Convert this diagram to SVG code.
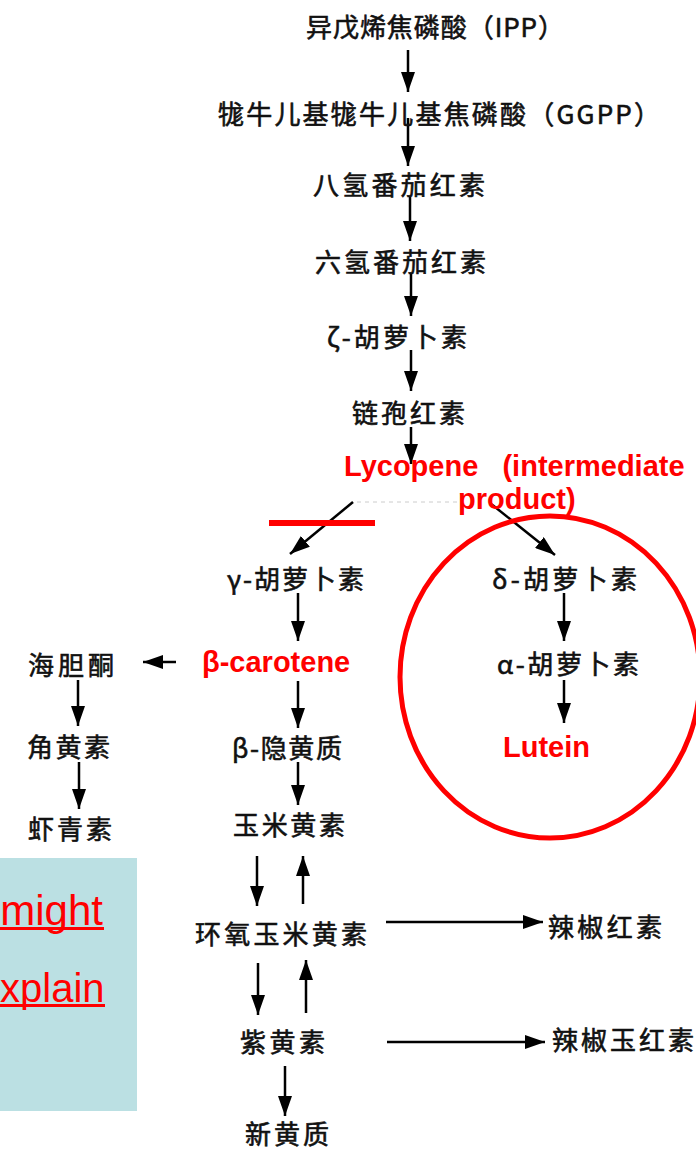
<svg xmlns="http://www.w3.org/2000/svg" width="696" height="1174" viewBox="0 0 696 1174">
<style>
.cn{font-family:"Noto Sans CJK SC","Noto Sans CJK TC",sans-serif;font-size:26px;fill:#111;stroke:#111;stroke-width:0.6;}
.red{font-family:"Liberation Sans",Arial,sans-serif;font-size:29px;font-weight:bold;fill:#ff0000;}
.note{font-family:"Liberation Sans",Arial,sans-serif;font-size:42px;fill:#ff0000;}
.ar{stroke:#000;stroke-width:2.5;fill:none;marker-end:url(#ah);}
</style>
<defs>
<marker id="ah" markerUnits="userSpaceOnUse" viewBox="0 0 20 14" refX="20" refY="7" markerWidth="20" markerHeight="14" orient="auto">
<path d="M0,0 L20,7 L0,14 z" fill="#000"/>
</marker>
</defs>
<rect width="696" height="1174" fill="#fff"/>

<g id="note-box">
<rect x="0" y="858" width="137" height="253" fill="#bbe0e3"/>
<text class="note" x="103" y="925" text-anchor="end">might</text>
<rect x="0" y="927" width="104" height="3" fill="#ff0000"/>
<text class="note" x="0" y="1002" style="font-size:40px">xplain</text>
<rect x="0" y="1004" width="105" height="3" fill="#ff0000"/>
</g>

<g id="connectors">
<line class="ar" x1="408" y1="50" x2="408" y2="92"/>
<line class="ar" x1="408" y1="118" x2="408" y2="166"/>
<line class="ar" x1="410" y1="197" x2="410" y2="241"/>
<line class="ar" x1="411" y1="273" x2="411" y2="316"/>
<line class="ar" x1="411" y1="350" x2="411" y2="391"/>
<line class="ar" x1="411" y1="427" x2="411" y2="464"/>
<line x1="357" y1="502" x2="457" y2="502" stroke="#cccccc" stroke-width="1" stroke-dasharray="4,4"/>
<line class="ar" x1="353" y1="502" x2="290" y2="554"/>
<line class="ar" x1="490" y1="503" x2="555" y2="555"/>
<line class="ar" x1="298" y1="593" x2="298" y2="641"/>
<line class="ar" x1="176" y1="662" x2="143" y2="662"/>
<line class="ar" x1="78" y1="680" x2="78" y2="726"/>
<line class="ar" x1="79" y1="762" x2="79" y2="809"/>
<line class="ar" x1="298" y1="681" x2="298" y2="728"/>
<line class="ar" x1="298" y1="762" x2="298" y2="805"/>
<line class="ar" x1="257" y1="856" x2="257" y2="906"/>
<line class="ar" x1="303" y1="904" x2="303" y2="856"/>
<line class="ar" x1="258" y1="963" x2="258" y2="1015"/>
<line class="ar" x1="306" y1="1013" x2="306" y2="960"/>
<line class="ar" x1="386" y1="922" x2="543" y2="922"/>
<line class="ar" x1="387" y1="1042" x2="545" y2="1042"/>
<line class="ar" x1="285" y1="1066" x2="285" y2="1116"/>
<line class="ar" x1="564" y1="593" x2="564" y2="641"/>
<line class="ar" x1="564" y1="680" x2="564" y2="723"/>
</g>

<g id="ipp"><text class="cn" x="306" y="37" textLength="258" lengthAdjust="spacing">异戊烯焦磷酸（IPP）</text></g>
<g id="ggpp"><text class="cn" x="218" y="124" textLength="442" lengthAdjust="spacing">牻牛儿基牻牛儿基焦磷酸（GGPP）</text></g>
<g id="phytoene"><text class="cn" x="313" y="195" textLength="172" lengthAdjust="spacing">八氢番茄红素</text></g>
<g id="phytofluene"><text class="cn" x="315" y="272" textLength="171" lengthAdjust="spacing">六氢番茄红素</text></g>
<g id="zeta-carotene"><text class="cn" x="327" y="347" textLength="140" lengthAdjust="spacing">ζ-胡萝卜素</text></g>
<g id="neurosporene"><text class="cn" x="352" y="423" textLength="113" lengthAdjust="spacing">链孢红素</text></g>
<g id="lycopene">
<text class="red" x="344" y="476" xml:space="preserve">Lycopene   (intermediate</text>
<text class="red" x="458" y="509">product)</text>
</g>
<rect x="269" y="520" width="106" height="6" fill="#ff0000"/>
<g id="gamma-carotene"><text class="cn" x="227" y="589" textLength="137" lengthAdjust="spacing">γ-胡萝卜素</text></g>
<g id="beta-carotene"><text class="red" x="202" y="672">β-carotene</text></g>
<g id="echinenone"><text class="cn" x="28" y="675" textLength="86" lengthAdjust="spacing">海胆酮</text></g>
<g id="canthaxanthin"><text class="cn" x="27" y="757" textLength="83" lengthAdjust="spacing">角黄素</text></g>
<g id="astaxanthin"><text class="cn" x="28" y="839" textLength="84" lengthAdjust="spacing">虾青素</text></g>
<g id="beta-cryptoxanthin"><text class="cn" x="232" y="758" textLength="110" lengthAdjust="spacing">β-隐黄质</text></g>
<g id="zeaxanthin"><text class="cn" x="233" y="835" textLength="112" lengthAdjust="spacing">玉米黄素</text></g>
<g id="antheraxanthin"><text class="cn" x="195" y="944" textLength="172" lengthAdjust="spacing">环氧玉米黄素</text></g>
<g id="capsanthin"><text class="cn" x="548" y="937" textLength="114" lengthAdjust="spacing">辣椒红素</text></g>
<g id="violaxanthin"><text class="cn" x="240" y="1052" textLength="85" lengthAdjust="spacing">紫黄素</text></g>
<g id="capsorubin"><text class="cn" x="552" y="1050" textLength="142" lengthAdjust="spacing">辣椒玉红素</text></g>
<g id="neoxanthin"><text class="cn" x="245" y="1144" textLength="84" lengthAdjust="spacing">新黄质</text></g>
<g id="delta-carotene"><text class="cn" x="492" y="589" textLength="145" lengthAdjust="spacing">δ-胡萝卜素</text></g>
<g id="alpha-carotene"><text class="cn" x="497" y="674" textLength="142" lengthAdjust="spacing">α-胡萝卜素</text></g>
<g id="lutein"><text class="red" x="503" y="757">Lutein</text></g>
<g id="highlight-circle"><ellipse cx="550" cy="677" rx="150" ry="161" fill="none" stroke="#ff0000" stroke-width="5"/></g>
</svg>
